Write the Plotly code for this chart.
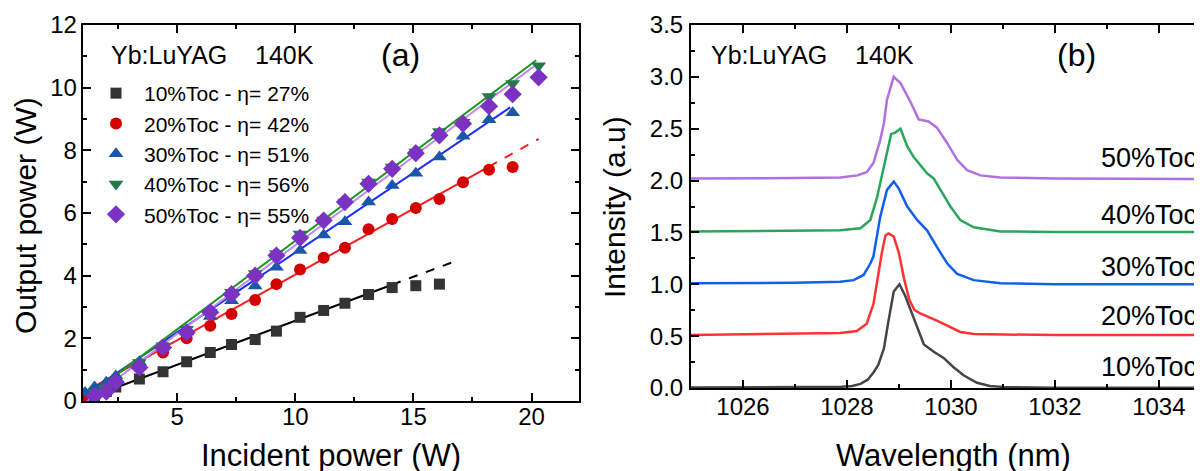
import plotly.graph_objects as go

FONT = "Arial, Liberation Sans, sans-serif"

# ---------------- Panel (a): output vs incident power ----------------
legend_names = ["10%Toc - η= 27%", "20%Toc - η= 42%", "30%Toc - η= 51%",
                "40%Toc - η= 56%", "50%Toc - η= 55%"]

pin_10 = [1.5, 2.0, 2.4, 3.4, 4.4, 5.4, 6.4, 7.3, 8.3, 9.2, 10.2, 11.2, 12.1, 13.1, 14.1, 15.1, 16.1]
pout_10 = [0.15, 0.3, 0.45, 0.7, 0.93, 1.25, 1.55, 1.8, 1.96, 2.23, 2.67, 2.89, 3.12, 3.4, 3.62, 3.68, 3.73]

pin_20 = [1.0, 1.5, 2.0, 2.4, 3.4, 4.4, 5.4, 6.4, 7.3, 8.3, 9.2, 10.2, 11.2, 12.1, 13.1, 14.1, 15.1, 16.1, 17.1, 18.2, 19.2]
pout_20 = [0.15, 0.3, 0.5, 0.7, 1.1, 1.55, 2.0, 2.4, 2.78, 3.22, 3.73, 4.2, 4.57, 4.89, 5.48, 5.81, 6.16, 6.45, 6.98, 7.38, 7.47]

pin_30 = [1.1, 1.5, 2.0, 2.4, 3.4, 4.4, 5.4, 6.4, 7.3, 8.3, 9.2, 10.2, 11.2, 12.1, 13.1, 14.1, 15.1, 16.1, 17.1, 18.2, 19.2]
pout_30 = [0.27, 0.45, 0.6, 0.8, 1.25, 1.72, 2.2, 2.7, 3.2, 3.67, 4.27, 4.8, 5.3, 5.72, 6.35, 6.88, 7.27, 7.79, 8.45, 8.98, 9.2]

pin_40 = [1.5, 2.0, 2.4, 3.4, 4.4, 5.4, 6.4, 7.3, 8.3, 9.2, 10.2, 11.2, 12.1, 13.1, 14.1, 15.1, 16.1, 17.1, 18.2, 19.2, 20.3]
pout_40 = [0.27, 0.43, 0.64, 1.23, 1.76, 2.29, 2.83, 3.47, 4.07, 4.71, 5.33, 5.78, 6.35, 6.99, 7.47, 7.95, 8.6, 8.9, 9.72, 10.13, 10.7]

pin_50 = [1.5, 2.0, 2.4, 3.4, 4.4, 5.4, 6.4, 7.3, 8.3, 9.2, 10.2, 11.2, 12.1, 13.1, 14.1, 15.1, 16.1, 17.1, 18.2, 19.2, 20.3]
pout_50 = [0.16, 0.3, 0.6, 1.07, 1.71, 2.19, 2.83, 3.41, 4.0, 4.64, 5.21, 5.76, 6.35, 6.93, 7.41, 7.91, 8.48, 8.85, 9.41, 9.79, 10.33]

# linear fits: slope and threshold (x-intercept), solid range end, dashed extension end
fit_slope = [0.281, 0.42, 0.509, 0.565, 0.565]
fit_thresh = [0.89, 0.39, 0.69, 0.95, 1.2]
fit_solid_end = [14.1, 18.2, 19.1, 20.2, 20.1]
fit_dash_end = [16.9, 20.3, None, None, None]
fit_start = 1.0

# ---------------- Panel (b): spectra ----------------
spec_labels = ["10%Toc", "20%Toc", "30%Toc", "40%Toc", "50%Toc"]

wl_10 = [1025.0, 1026.0, 1027.0, 1027.5, 1027.9, 1028.1, 1028.26, 1028.4, 1028.51, 1028.6, 1028.71, 1028.8,
         1028.9, 1029.01, 1029.12, 1029.25, 1029.37, 1029.48, 1029.67, 1029.86, 1030.05, 1030.25, 1030.5,
         1030.75, 1031.0, 1031.5, 1032.0, 1033.0, 1034.0, 1035.0]
int_10 = [0.005, 0.005, 0.008, 0.01, 0.012, 0.02, 0.04, 0.08, 0.15, 0.22, 0.38, 0.65,
          0.93, 1.0, 0.89, 0.72, 0.56, 0.42, 0.35, 0.29, 0.20, 0.12, 0.05,
          0.02, 0.01, 0.005, 0.003, 0.002, 0.002, 0.002]

wl_20 = [1025.0, 1026.0, 1027.0, 1027.87, 1028.19, 1028.38, 1028.51, 1028.58, 1028.67, 1028.74, 1028.8,
         1028.9, 1029.0, 1029.1, 1029.2, 1029.3, 1029.41, 1029.73, 1029.99, 1030.18, 1030.44, 1031.0,
         1032.0, 1035.0]
int_20 = [0.51, 0.515, 0.52, 0.53, 0.55, 0.62, 0.81, 1.04, 1.30, 1.47, 1.49,
          1.46, 1.30, 1.05, 0.85, 0.75, 0.72, 0.65, 0.59, 0.54, 0.52, 0.515,
          0.51, 0.51]

wl_30 = [1025.0, 1026.0, 1027.0, 1027.87, 1028.13, 1028.32, 1028.45, 1028.51, 1028.64, 1028.77, 1028.9,
         1029.0, 1029.16, 1029.35, 1029.54, 1029.73, 1029.93, 1030.12, 1030.44, 1030.95, 1032.0, 1035.0]
int_30 = [1.01, 1.01, 1.015, 1.025, 1.04, 1.09, 1.2, 1.27, 1.65, 1.91, 1.99,
          1.92, 1.75, 1.62, 1.52, 1.36, 1.20, 1.10, 1.04, 1.01, 1.0, 1.0]

wl_40 = [1025.0, 1026.0, 1027.0, 1027.87, 1028.26, 1028.45, 1028.58, 1028.71, 1028.85, 1028.92, 1029.03,
         1029.16, 1029.28, 1029.54, 1029.67, 1029.8, 1029.99, 1030.18, 1030.44, 1030.95, 1032.0, 1035.0]
int_40 = [1.51, 1.515, 1.52, 1.52, 1.54, 1.62, 1.84, 2.14, 2.45, 2.46, 2.50,
          2.33, 2.23, 2.07, 2.02, 1.91, 1.75, 1.62, 1.55, 1.51, 1.505, 1.505]

wl_50 = [1025.0, 1026.0, 1027.0, 1027.87, 1028.2, 1028.38, 1028.51, 1028.64, 1028.71, 1028.77, 1028.9,
         1029.03, 1029.22, 1029.38, 1029.57, 1029.73, 1029.93, 1030.12, 1030.31, 1030.57, 1030.95, 1032.0, 1035.0]
int_50 = [2.02, 2.02, 2.025, 2.03, 2.05, 2.08, 2.17, 2.39, 2.55, 2.78, 3.0,
          2.94, 2.76, 2.59, 2.57, 2.51, 2.36, 2.20, 2.10, 2.05, 2.03, 2.02, 2.015]

label_wl = 1032.84
label_y = [0.2, 0.69, 1.17, 1.67, 2.22]

# ---------------- styles ----------------
marker_colors = ["#333333", "#d40000", "#1a57a8", "#237a48", "#7b32c2"]
marker_symbols = ["square", "circle", "triangle-up", "triangle-down", "diamond"]
marker_sizes = [11, 12, 13, 13, 14]
fit_colors = ["#000000", "#ff1a1a", "#1a2cff", "#1a9a1a", "#c08af0"]
spec_colors = ["#454545", "#ff3333", "#1060e8", "#2ca55c", "#b070e2"]

pin = [pin_10, pin_20, pin_30, pin_40, pin_50]
pout = [pout_10, pout_20, pout_30, pout_40, pout_50]
wls = [wl_10, wl_20, wl_30, wl_40, wl_50]
ints = [int_10, int_20, int_30, int_40, int_50]

fig = go.Figure()

for i in range(5):
    xs = [fit_start, fit_solid_end[i]]
    ys = [fit_slope[i] * (x - fit_thresh[i]) for x in xs]
    fig.add_trace(go.Scatter(x=xs, y=ys, mode="lines", showlegend=False, hoverinfo="skip",
                             line=dict(color=fit_colors[i], width=2), xaxis="x", yaxis="y"))
    if fit_dash_end[i] is not None:
        xd = [fit_solid_end[i], fit_dash_end[i]]
        yd = [fit_slope[i] * (x - fit_thresh[i]) for x in xd]
        fig.add_trace(go.Scatter(x=xd, y=yd, mode="lines", showlegend=False, hoverinfo="skip",
                                 line=dict(color=fit_colors[i], width=2, dash="dash"),
                                 xaxis="x", yaxis="y"))

for i in range(5):
    fig.add_trace(go.Scatter(x=pin[i], y=pout[i], mode="markers", name=legend_names[i],
                             marker=dict(symbol=marker_symbols[i], size=marker_sizes[i],
                                         color=marker_colors[i], line=dict(width=0)),
                             xaxis="x", yaxis="y"))

for i in range(5):
    fig.add_trace(go.Scatter(x=wls[i], y=ints[i], mode="lines", showlegend=False,
                             line=dict(color=spec_colors[i], width=2.5),
                             xaxis="x2", yaxis="y2"))

# the page body adds an 8 px offset; target pixel positions are converted accordingly
OFF = 8
W, H = 1202 - OFF, 471 - OFF
def px(x):
    return (x - OFF) / W
def py(y):
    return (H - (y - OFF)) / H

axis_common = dict(showline=True, linecolor="black", linewidth=2, ticks="inside", ticklen=8,
                   tickwidth=2, tickcolor="black", showgrid=False, zeroline=False,
                   automargin=False,
                   tickfont=dict(family=FONT, size=24, color="black"))
minor_common = dict(ticks="inside", ticklen=4, tickwidth=2, tickcolor="black")

fig.update_layout(
    width=W, height=H, margin=dict(l=0, r=0, t=0, b=0, autoexpand=False),
    paper_bgcolor="white", plot_bgcolor="white",
    font=dict(family=FONT, color="black"),
    xaxis=dict(domain=[px(82.7), px(578.8)], range=[1, 22], tickvals=[5, 10, 15, 20],
               mirror="allticks", anchor="y", ticklabelstandoff=-7,
               minor=dict(dtick=2.5, **minor_common), **axis_common),
    yaxis=dict(domain=[py(401), py(25)], range=[0, 12], dtick=2, mirror="allticks", anchor="x",
               ticklabelstandoff=-1, minor=dict(dtick=1, **minor_common), **axis_common),
    xaxis2=dict(domain=[px(691), 1.0], range=[1025, 1034.83], dtick=2, tick0=1026,
                mirror="allticks", anchor="y2", ticklabelstandoff=-4,
                minor=dict(dtick=1, **minor_common), **axis_common),
    yaxis2=dict(domain=[py(388), py(25)], range=[0, 3.5], dtick=0.5, tickformat=".1f",
                mirror=False, anchor="x2", ticklabelstandoff=1,
                minor=dict(dtick=0.25, **minor_common), **axis_common),
    showlegend=True,
    legend=dict(x=px(88), y=py(73), xanchor="left", yanchor="top", bgcolor="rgba(0,0,0,0)",
                font=dict(family=FONT, size=21, color="black"), itemwidth=46,
                tracegroupgap=0, itemclick=False),
)

ann = []
def text(x, y, s, size, xanchor="left", xref="paper", yref="paper", angle=0):
    ann.append(dict(x=x, y=y, xref=xref, yref=yref, text=s, showarrow=False,
                    xanchor=xanchor, yanchor="middle", textangle=angle,
                    font=dict(family=FONT, size=size, color="black")))

sp = "\u00a0" * 4
text(px(109), py(55), "Yb:LuYAG" + sp + "140K", 25)
text(px(400), py(55), "(a)", 32, xanchor="center")
text(px(709), py(55), "Yb:LuYAG" + sp + "140K", 25)
text(px(1076), py(55), "(b)", 32, xanchor="center")
for i in range(5):
    text(label_wl, label_y[i], spec_labels[i], 27, xref="x2", yref="y2")

text(px(331), py(455), "Incident power (W)", 31, xanchor="center")
text(px(954), py(455), "Wavelength (nm)", 31, xanchor="center")
text(px(25), py(216), "Output power (W)", 30, xanchor="center", angle=-90)
text(px(614), py(207), "Intensity (a.u)", 30, xanchor="center", angle=-90)
fig.update_layout(annotations=ann)

fig.write_html("out.html")
